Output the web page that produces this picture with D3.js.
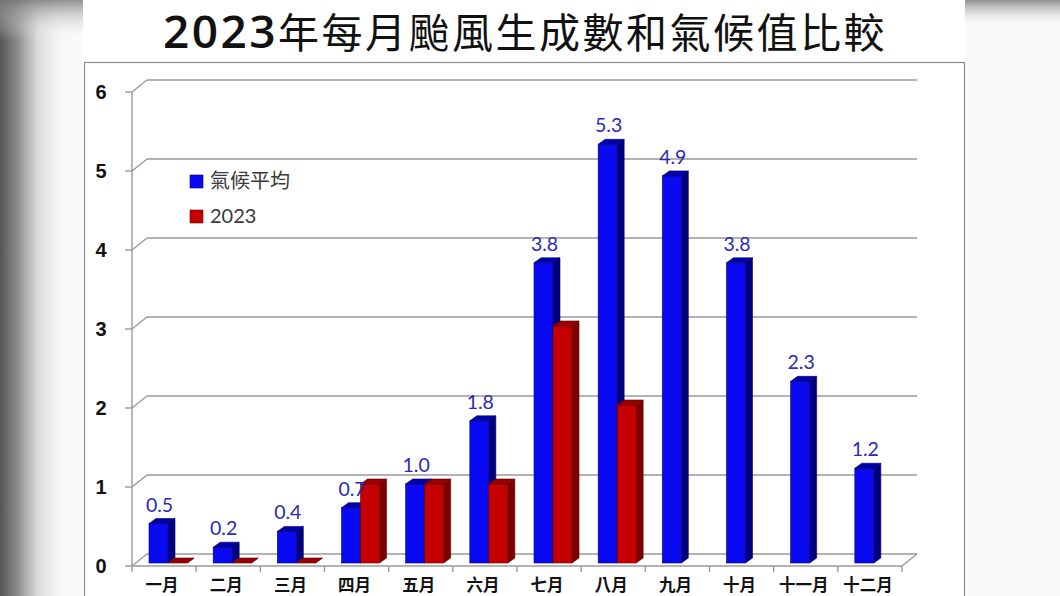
<!DOCTYPE html>
<html>
<head>
<meta charset="utf-8">
<script src="https://cdn.jsdelivr.net/npm/d3@7"></script>
<style>
  html, body { margin: 0; padding: 0; background: #fff; }
  svg { display: block; }
</style>
</head>
<body>
<svg id="chart" width="1060" height="596"></svg>
<script>
// ----- data -----
const months = ["一月", "二月", "三月", "四月", "五月", "六月", "七月", "八月", "九月", "十月", "十一月", "十二月"];
const seriesNames = ["氣候平均", "2023"];
const climateAvg = [0.5, 0.2, 0.4, 0.7, 1.0, 1.8, 3.8, 5.3, 4.9, 3.8, 2.3, 1.2];
const year2023 = [0, 0, 0, 1, 1, 1, 3, 2, null, null, null, null];
const yTicks = [0, 1, 2, 3, 4, 5, 6];

const colors = {
  "氣候平均": { front: "#0a0af2", side: "#00007e", top: "#0000a8", stroke: "#00006a" },
  "2023": { front: "#c40000", side: "#7c0000", top: "#960000", stroke: "#6a0000" }
};

const svg = d3.select("#chart");

// ----- background (blurred grey sides) -----
const defs = svg.append("defs");
const gl = defs.append("linearGradient").attr("id", "leftGrad");
gl.append("stop").attr("offset", "0%").attr("stop-color", "#555");
gl.append("stop").attr("offset", "20%").attr("stop-color", "#8a8a8a");
gl.append("stop").attr("offset", "45%").attr("stop-color", "#dcdcdc");
gl.append("stop").attr("offset", "70%").attr("stop-color", "#f6f6f6");
gl.append("stop").attr("offset", "100%").attr("stop-color", "#fbfbfb");
const gt = defs.append("linearGradient").attr("id", "topGrad")
  .attr("x1", 0).attr("y1", 0).attr("x2", 0).attr("y2", 1);
gt.append("stop").attr("offset", "0%").attr("stop-color", "#777").attr("stop-opacity", 0.8);
gt.append("stop").attr("offset", "100%").attr("stop-color", "#fff").attr("stop-opacity", 0);

svg.append("rect").attr("x", 0).attr("y", 0).attr("width", 84).attr("height", 596).attr("fill", "url(#leftGrad)");
svg.append("rect").attr("x", 0).attr("y", 0).attr("width", 84).attr("height", 40).attr("fill", "url(#topGrad)");
svg.append("rect").attr("x", 965).attr("y", 0).attr("width", 95).attr("height", 596).attr("fill", "#fafafa");
svg.append("rect").attr("x", 965).attr("y", 0).attr("width", 95).attr("height", 28).attr("fill", "url(#topGrad)");
svg.append("rect").attr("x", 83).attr("y", 0).attr("width", 882).attr("height", 596).attr("fill", "#fff");

// ----- title -----
const title = svg.append("text")
  .attr("x", 525).attr("y", 48)
  .attr("text-anchor", "middle")
  .attr("fill", "#111")
  .style("letter-spacing", "2.5px");
title.append("tspan")
  .style("font-family", "'Open Sans', sans-serif")
  .style("font-weight", 600)
  .style("font-size", "46px").text("2023");
title.append("tspan")
  .style("font-family", "'Noto Sans CJK TC', sans-serif")
  .style("font-weight", 400)
  .style("font-size", "41px").text("年每月颱風生成數和氣候值比較");

// chart frame
svg.append("rect")
  .attr("x", 84.5).attr("y", 62.5).attr("width", 880).attr("height", 560)
  .attr("fill", "none").attr("stroke", "#8c8c8c").attr("stroke-width", 1.2);

// ----- scales -----
const depth = { dx: 15, dy: -12 };  // front plane -> back wall
const y = d3.scaleLinear().domain([0, 6]).range([566, 92]);
const x0 = d3.scaleBand().domain(months).range([132, 902]).paddingInner(0).paddingOuter(0);
const x1 = d3.scaleBand().domain(seriesNames).range([17, 55]);

const grid = svg.append("g").attr("fill", "none").attr("stroke", "#9a9a9a").attr("stroke-width", 1.4);

// back wall gridlines + side diagonals
yTicks.forEach(t => {
  grid.append("line")
    .attr("x1", x0.range()[0] + depth.dx).attr("x2", x0.range()[1] + depth.dx)
    .attr("y1", y(t) + depth.dy).attr("y2", y(t) + depth.dy);
  grid.append("line")
    .attr("x1", x0.range()[0]).attr("y1", y(t))
    .attr("x2", x0.range()[0] + depth.dx).attr("y2", y(t) + depth.dy);
  grid.append("line")
    .attr("x1", x0.range()[0] - 7).attr("x2", x0.range()[0])
    .attr("y1", y(t)).attr("y2", y(t));
});
// front left axis
grid.append("line")
  .attr("x1", x0.range()[0]).attr("x2", x0.range()[0])
  .attr("y1", y(6)).attr("y2", y(0));
// floor front edge + right diagonal
grid.append("line")
  .attr("x1", x0.range()[0]).attr("x2", x0.range()[1])
  .attr("y1", y(0)).attr("y2", y(0));
grid.append("line")
  .attr("x1", x0.range()[1]).attr("y1", y(0))
  .attr("x2", x0.range()[1] + depth.dx).attr("y2", y(0) + depth.dy);
// category ticks
months.concat(["end"]).forEach((m, i) => {
  const xx = x0.range()[0] + i * x0.step();
  grid.append("line").attr("x1", xx).attr("x2", xx).attr("y1", y(0)).attr("y2", y(0) + 6);
});

// ----- y labels -----
svg.append("g").selectAll("text")
  .data(yTicks).enter().append("text")
  .attr("x", 101).attr("y", d => y(d) + 7)
  .attr("text-anchor", "middle")
  .style("font-family", "'Liberation Sans', Arial, sans-serif")
  .style("font-weight", 700).style("font-size", "20px")
  .attr("fill", "#111")
  .text(d => d);

// ----- x labels -----
svg.append("g").selectAll("text")
  .data(months).enter().append("text")
  .attr("x", d => x0(d) + x0.bandwidth() / 2 - 2)
  .attr("y", 591)
  .attr("text-anchor", "middle")
  .style("font-family", "'Noto Sans CJK TC', sans-serif")
  .style("font-weight", 700).style("font-size", "16.5px")
  .attr("fill", "#111")
  .text(d => d);

// ----- 3D bars -----
const barData = [];
months.forEach((m, i) => {
  barData.push({ month: m, key: "氣候平均", value: climateAvg[i] });
  if (year2023[i] !== null) barData.push({ month: m, key: "2023", value: year2023[i] });
});

const bw = x1.bandwidth();
const sideDx = 7, sideDy = -5, lift = -3;

const bars = svg.append("g").selectAll("g")
  .data(barData).enter().append("g");

bars.each(function (d) {
  const g = d3.select(this);
  const c = colors[d.key];
  const xl = x0(d.month) + x1(d.key);
  const yb = y(0) + lift;
  const yt = y(d.value) + lift;
  // side
  g.append("path")
    .attr("d", `M${xl + bw},${yb} L${xl + bw + sideDx},${yb + sideDy} L${xl + bw + sideDx},${yt + sideDy} L${xl + bw},${yt} Z`)
    .attr("fill", c.side).attr("stroke", c.stroke).attr("stroke-width", 0.6);
  // front
  if (d.value > 0) {
    g.append("rect")
      .attr("x", xl).attr("y", yt).attr("width", bw).attr("height", yb - yt)
      .attr("fill", c.front).attr("stroke", c.stroke).attr("stroke-width", 0.6);
  }
  // top
  g.append("path")
    .attr("d", `M${xl},${yt} L${xl + sideDx},${yt + sideDy} L${xl + bw + sideDx},${yt + sideDy} L${xl + bw},${yt} Z`)
    .attr("fill", c.top).attr("stroke", c.stroke).attr("stroke-width", 0.6);
});

// ----- value labels (climate average) -----
svg.append("g").selectAll("text")
  .data(months).enter().append("text")
  .attr("x", (d, i) => x0(d) + x1("氣候平均") + bw / 2 + 1)
  .attr("y", (d, i) => y(climateAvg[i]) - 15)
  .attr("text-anchor", "middle")
  .style("font-family", "Lato, 'Open Sans', sans-serif")
  .style("font-size", "19.5px")
  .attr("fill", "#2a2ab4")
  .text((d, i) => climateAvg[i].toFixed(1));

// ----- legend -----
const legend = svg.append("g").attr("transform", "translate(190,175)");
seriesNames.forEach((s, i) => {
  const row = legend.append("g").attr("transform", `translate(0,${i * 35})`);
  row.append("rect").attr("width", 13).attr("height", 13)
    .attr("fill", colors[s].front).attr("stroke", colors[s].stroke).attr("stroke-width", 0.6);
  row.append("text")
    .attr("x", 20).attr("y", 13)
    .style("font-family", s === "2023" ? "Lato, sans-serif" : "'Noto Sans CJK TC', sans-serif")
    .style("font-size", "20px")
    .attr("fill", "#3a3a3a")
    .text(s);
});
</script>
</body>
</html>
